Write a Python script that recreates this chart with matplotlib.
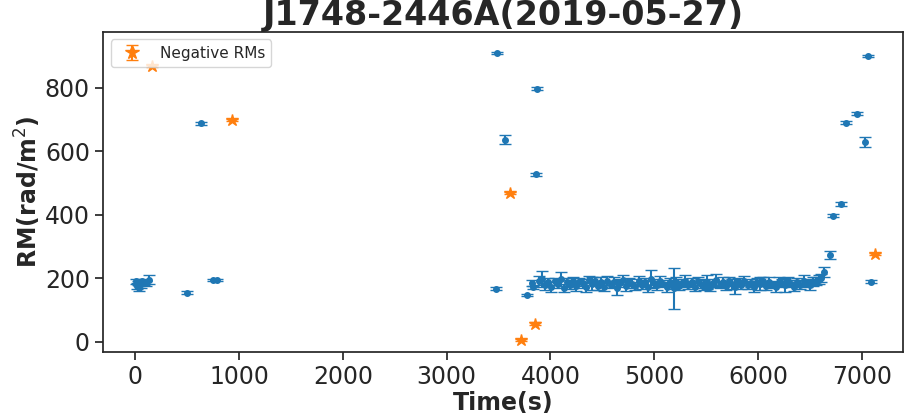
import matplotlib
matplotlib.use("Agg")
import matplotlib.pyplot as plt

# RM measurements (blue) and sign-flipped RMs (orange)
t_start = [10, 20, 30, 40, 50, 60, 80, 100, 130, 500, 630, 750, 785]
rm_start = [190, 176, 186, 168, 182, 193, 188, 184, 196, 155, 688, 195, 195]
err_start = [8, 10, 6, 7, 12, 6, 8, 9, 14, 4, 4, 4, 4]

t_mid = [3480, 3490, 3560, 3776, 3822, 3832, 3860, 3870]
rm_mid = [167, 910, 636, 148, 186, 172, 527, 797]
err_mid = [4, 4, 14, 4, 10, 5, 4, 4]

t_band = [3890, 3920, 3950, 3980, 4010, 4040, 4070, 4100, 4130, 4160,
          4190, 4220, 4250, 4280, 4310, 4340, 4370, 4400, 4430, 4460,
          4490, 4520, 4550, 4580, 4610, 4640, 4670, 4700, 4730, 4760,
          4790, 4820, 4850, 4880, 4910, 4940, 4970, 5000, 5030, 5060,
          5090, 5120, 5150, 5180, 5190, 5210, 5240, 5270, 5300, 5330,
          5360, 5390, 5420, 5450, 5480, 5510, 5540, 5570, 5600, 5630,
          5660, 5690, 5720, 5750, 5780, 5810, 5840, 5870, 5900, 5930,
          5960, 5990, 6020, 6050, 6080, 6110, 6140, 6170, 6200, 6230,
          6260, 6290, 6320, 6350, 6380, 6410, 6440, 6470, 6500, 6530,
          6560, 6590, 6610]
rm_band = [193, 198, 178, 188, 172, 190, 182, 198, 170, 187,
           180, 192, 175, 189, 184, 172, 196, 183, 191, 177,
           188, 174, 193, 180, 189, 170, 185, 195, 177, 188,
           183, 175, 191, 180, 189, 174, 198, 185, 178, 191,
           183, 172, 188, 180, 168, 189, 176, 185, 193, 178,
           188, 174, 191, 183, 178, 189, 172, 185, 195, 180,
           188, 176, 191, 183, 174, 189, 180, 193, 178, 185,
           174, 189, 183, 191, 176, 188, 180, 172, 189, 185,
           178, 191, 183, 174, 188, 180, 193, 185, 178, 189,
           192, 196, 200]
err_band = [15, 25, 14, 13, 15, 12, 14, 22, 13, 15,
            14, 12, 16, 13, 14, 15, 12, 20, 13, 14,
            16, 13, 14, 12, 15, 24, 13, 14, 16, 12,
            14, 13, 15, 14, 12, 16, 28, 13, 14, 15,
            12, 16, 14, 13, 64, 15, 14, 12, 16, 13,
            14, 15, 12, 14, 16, 22, 13, 14, 20, 12,
            15, 14, 13, 16, 25, 12, 14, 15, 13, 14,
            16, 12, 20, 14, 13, 15, 12, 16, 14, 13,
            22, 14, 12, 15, 13, 14, 18, 13, 16, 14,
            12, 14, 13]

t_end = [6640, 6695, 6725, 6800, 6850, 6955, 7033, 7062, 7090]
rm_end = [220, 274, 397, 435, 690, 718, 630, 900, 189]
err_end = [15, 12, 5, 6, 5, 5, 16, 4, 5]

t_neg = [164, 934, 3613, 3719, 3853, 7129]
rm_neg = [869, 699, 469, 6, 57, 277]
err_neg = [4, 4, 4, 4, 4, 4]

t_pos = t_start + t_mid + t_band + t_end
rm_pos = rm_start + rm_mid + rm_band + rm_end
err_pos = err_start + err_mid + err_band + err_end

plt.rcParams.update({
    "font.family": "DejaVu Sans",
    "text.color": ".15",
    "axes.labelcolor": ".15",
    "axes.edgecolor": ".15",
    "xtick.color": ".15",
    "ytick.color": ".15",
    "axes.linewidth": 1.25,
})

fig = plt.figure(figsize=(9.05, 4.19), dpi=100)
ax = fig.add_axes([0.114, 0.16, 0.884, 0.764])

ax.errorbar(t_pos, rm_pos, yerr=err_pos, fmt="o", ms=4, color="C0",
            ecolor="C0", elinewidth=1.5, capsize=4)
ax.errorbar(t_neg, rm_neg, yerr=err_neg, fmt="*", ms=9, color="C1",
            ecolor="C1", elinewidth=1.5, capsize=4, label="Negative RMs")

ax.set_xlim(-310, 7400)
ax.set_ylim(-32, 976)
ax.set_xticks([0, 1000, 2000, 3000, 4000, 5000, 6000, 7000])
ax.set_yticks([0, 200, 400, 600, 800])
ax.tick_params(axis="both", labelsize=17, length=6, width=1.25,
               direction="out")

ax.set_title("J1748-2446A(2019-05-27)", fontsize=24, fontweight="bold",
             pad=-5)
ax.set_xlabel("Time(s)", fontsize=17, fontweight="bold", labelpad=1)
ax.set_ylabel(r"RM(rad/m$^2$)", fontsize=17, fontweight="bold", labelpad=1)

ax.legend(loc="upper left", fontsize=11, markerscale=1.1)

fig.savefig("out.png", dpi=100)
